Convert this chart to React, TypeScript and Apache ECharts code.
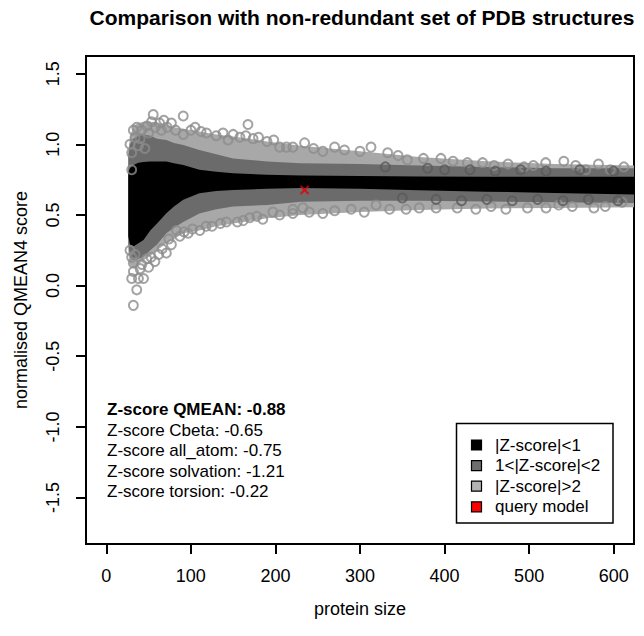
import React, { useEffect, useRef } from "react";
import * as echarts from "echarts";

// ---------- data ----------
const xTicks = [0, 100, 200, 300, 400, 500, 600];
const yTicks = [-1.5, -1.0, -0.5, 0.0, 0.5, 1.0, 1.5];

// envelope of the point clouds (protein size -> normalised QMEAN4 score)
const bandX = [26, 28, 32, 38, 44, 52, 60, 71, 80, 91, 110, 130, 150, 190, 230, 300, 370, 450, 530, 624];
const lightUpper = [0.95, 1.05, 1.13, 1.15, 1.16, 1.16, 1.15, 1.14, 1.12, 1.11, 1.09, 1.07, 1.055, 1.02, 0.99, 0.95, 0.91, 0.88, 0.86, 0.85];
const lightLower = [0.25, 0.15, 0.13, 0.15, 0.18, 0.21, 0.25, 0.30, 0.33, 0.37, 0.39, 0.42, 0.44, 0.477, 0.5, 0.52, 0.535, 0.545, 0.55, 0.555];
const darkUpper = [0.92, 1.0, 1.04, 1.06, 1.07, 1.06, 1.04, 1.03, 1.01, 0.995, 0.96, 0.93, 0.9, 0.878, 0.866, 0.86, 0.85, 0.84, 0.83, 0.83];
const darkLower = [0.3, 0.2, 0.18, 0.19, 0.205, 0.25, 0.29, 0.37, 0.41, 0.45, 0.51, 0.54, 0.56, 0.57, 0.594, 0.6, 0.6, 0.595, 0.59, 0.585];
const blackUpper = [0.8, 0.83, 0.854, 0.87, 0.875, 0.878, 0.878, 0.878, 0.866, 0.854, 0.82, 0.805, 0.795, 0.785, 0.78, 0.775, 0.772, 0.77, 0.77, 0.77];
const blackLower = [0.35, 0.29, 0.276, 0.3, 0.323, 0.39, 0.44, 0.512, 0.56, 0.607, 0.654, 0.67, 0.677, 0.685, 0.69, 0.685, 0.675, 0.665, 0.655, 0.645];

// individual structures outside the dense cloud (|Z-score|>2)
const outlierRings: [number, number][] = [
  [55.5, 1.21], [53.5, 1.16], [91, 1.2], [167.5, 1.14], [32, 1.1], [30, 0.94], [40, 1.04], [77, 1.15],
  [63, 1.15], [45.6, 0.97], [30, 0.82], [91, 1.07], [118.5, 1.08], [144, 1.03], [173.5, 1.04], [205, 0.98],
  [220.6, 0.98], [36, 1.12], [48, 1.13], [68, 1.17], [100, 1.1], [130, 1.06], [158, 1.05], [190, 1.02],
  [28, 1.0], [34, 1.05], [38, 0.99], [42, 1.1], [50, 1.08], [58, 1.12], [65, 1.1], [72, 1.12],
  [82, 1.1], [105, 1.12], [112, 1.09], [138, 1.08], [150, 1.07], [165, 1.06], [180, 1.05], [198, 1.03],
  [32, -0.14], [36, -0.03], [44, 0.05], [30, 0.05], [32, 0.1], [57.5, 0.17], [47.7, 0.19], [71, 0.23],
  [77, 0.29], [87, 0.35], [32, 0.16], [110.6, 0.39], [142, 0.45], [169.6, 0.48], [197, 0.52], [220.6, 0.51],
  [83, 0.39], [96.8, 0.37], [40, 0.12], [28, 0.25], [62, 0.22], [125, 0.42], [155, 0.45], [185, 0.47],
  [30, 0.2], [34, 0.22], [38, 0.05], [42, 0.15], [50, 0.13], [53, 0.2], [66, 0.26], [74, 0.33],
  [92, 0.38], [102, 0.4], [118, 0.42], [135, 0.44], [162, 0.46], [178, 0.49], [205, 0.5],
  [213, 0.98], [234.5, 1.01], [256, 0.95], [281.6, 0.96], [313, 0.98], [332.7, 0.94], [356, 0.89], [395.7, 0.9],
  [427, 0.87], [458.6, 0.85], [494, 0.84], [519.6, 0.87], [541, 0.88], [567, 0.82], [596, 0.82], [245, 0.97],
  [270, 0.98], [300, 0.95], [345, 0.92], [375, 0.9], [410, 0.88], [445, 0.87], [475, 0.86], [505, 0.85],
  [555, 0.85], [582, 0.86], [612, 0.84],
  [220.6, 0.54], [232.5, 0.55], [256, 0.51], [289.6, 0.54], [319, 0.57], [354.5, 0.54], [390, 0.55], [437, 0.54],
  [472.5, 0.54], [498, 0.55], [551, 0.56], [576.6, 0.55], [610, 0.59], [240, 0.52], [270, 0.53], [305, 0.52],
  [335, 0.54], [370, 0.55], [415, 0.55], [455, 0.56], [520, 0.55], [535, 0.57], [590, 0.56],
];

// 1<|Z-score|<2 structures scattered at the right-hand side
const darkSpeckles: [number, number][] = [
  [380, 0.83], [400, 0.82], [430, 0.82], [460, 0.81], [490, 0.82], [520, 0.81], [560, 0.82], [600, 0.81],
  [390, 0.61], [420, 0.6], [450, 0.61], [480, 0.6], [510, 0.61], [540, 0.6], [570, 0.61], [605, 0.6],
  [330, 0.84], [350, 0.62],
];

const queryModel: [number, number][] = [[234.5, 0.677]];

const zScoreLines = [
  "Z-score QMEAN: -0.88",
  "Z-score Cbeta: -0.65",
  "Z-score all_atom: -0.75",
  "Z-score solvation: -1.21",
  "Z-score torsion: -0.22",
];

const legendLabels = ["|Z-score|<1", "1<|Z-score|<2", "|Z-score|>2", "query model"];
const legendColors = ["#000000", "#6e6e6e", "#b4b4b4", "#ff0000"];

const FONT = "'Liberation Sans', Arial, Helvetica, sans-serif";

function bandSeries(name: string, upper: number[], lower: number[], color: string) {
  return {
    type: "custom",
    name,
    clip: true,
    silent: true,
    data: [[300, 0.7]],
    renderItem: (_params: any, api: any) => {
      const pts: number[][] = [];
      for (let i = 0; i < bandX.length; i++) pts.push(api.coord([bandX[i], upper[i]]));
      for (let i = bandX.length - 1; i >= 0; i--) pts.push(api.coord([bandX[i], lower[i]]));
      return { type: "polygon", shape: { points: pts }, style: { fill: color } };
    },
  };
}

export default function App() {
  const ref = useRef<HTMLDivElement>(null);

  useEffect(() => {
    if (!ref.current) return;
    const chart = echarts.init(ref.current, undefined, { renderer: "svg" });

    const graphics: any[] = [
      {
        type: "text",
        x: 362,
        y: 17,
        style: {
          text: "Comparison with non-redundant set of PDB structures",
          fontSize: 21,
          fontWeight: "bold",
          fontFamily: FONT,
          fill: "#000",
          align: "center",
          verticalAlign: "middle",
        },
      },
    ];
    zScoreLines.forEach((t, i) => {
      graphics.push({
        type: "text",
        x: 107,
        y: 409.5 + i * 20.6,
        z: 50,
        style: {
          text: t,
          fontSize: 17,
          fontWeight: i === 0 ? "bold" : "normal",
          fontFamily: FONT,
          fill: "#000",
          align: "left",
          verticalAlign: "middle",
        },
      });
    });
    graphics.push({
      type: "rect",
      z: 50,
      shape: { x: 456.5, y: 423.5, width: 156.5, height: 99.5 },
      style: { fill: "#fff", stroke: "#000", lineWidth: 1.5 },
    });
    legendLabels.forEach((t, i) => {
      const cy = 445 + i * 20.6;
      graphics.push({
        type: "rect",
        z: 51,
        shape: { x: 471.5, y: cy - 5, width: 10, height: 10 },
        style: { fill: legendColors[i], stroke: "#000", lineWidth: 1.2 },
      });
      graphics.push({
        type: "text",
        z: 51,
        x: 495,
        y: cy,
        style: {
          text: t,
          fontSize: 17,
          fontFamily: FONT,
          fill: "#000",
          align: "left",
          verticalAlign: "middle",
        },
      });
    });

    chart.setOption({
      animation: false,
      backgroundColor: "#fff",
      textStyle: { fontFamily: FONT },
      grid: {
        left: 86,
        right: 10,
        top: 56,
        bottom: 92,
        show: true,
        borderColor: "#000",
        borderWidth: 2,
        backgroundColor: "transparent",
      },
      xAxis: {
        type: "value",
        min: -24,
        max: 624,
        axisLine: { show: false, onZero: false },
        splitLine: { show: false },
        axisTick: {
          show: true,
          customValues: xTicks,
          length: 10,
          lineStyle: { color: "#000", width: 2 },
        },
        axisLabel: {
          customValues: xTicks,
          fontSize: 18,
          color: "#000",
          margin: 23,
          fontFamily: FONT,
        },
        name: "protein size",
        nameLocation: "middle",
        nameGap: 56,
        nameTextStyle: { fontSize: 18, color: "#000", fontFamily: FONT },
      },
      yAxis: {
        type: "value",
        min: -1.829,
        max: 1.625,
        axisLine: { show: false, onZero: false },
        splitLine: { show: false },
        axisTick: {
          show: true,
          customValues: yTicks,
          length: 10,
          lineStyle: { color: "#000", width: 2 },
        },
        axisLabel: {
          customValues: yTicks,
          rotate: 90,
          fontSize: 18,
          color: "#000",
          margin: 24,
          fontFamily: FONT,
          formatter: (v: number) => v.toFixed(1),
        },
        name: "normalised QMEAN4 score",
        nameLocation: "middle",
        nameRotate: 90,
        nameGap: 56,
        nameTextStyle: { fontSize: 18, color: "#000", fontFamily: FONT },
      },
      graphic: graphics,
      series: [
        bandSeries("|Z-score|>2 band", lightUpper, lightLower, "#a8a8a8"),
        {
          type: "scatter",
          name: "|Z-score|>2",
          data: outlierRings,
          symbol: "circle",
          symbolSize: 9,
          clip: true,
          silent: true,
          itemStyle: { color: "rgba(0,0,0,0)", borderColor: "#8c8c8c", borderWidth: 2 },
        },
        bandSeries("1<|Z-score|<2 band", darkUpper, darkLower, "#6b6b6b"),
        {
          type: "scatter",
          name: "1<|Z-score|<2",
          data: darkSpeckles,
          symbol: "circle",
          symbolSize: 9,
          clip: true,
          silent: true,
          itemStyle: { color: "rgba(0,0,0,0)", borderColor: "#5a5a5a", borderWidth: 2 },
        },
        bandSeries("|Z-score|<1 band", blackUpper, blackLower, "#000000"),
        {
          type: "scatter",
          name: "query model",
          data: queryModel,
          symbol: "path://M0,0L10,10M10,0L0,10",
          symbolSize: 8,
          clip: true,
          silent: true,
          z: 10,
          itemStyle: { color: "rgba(0,0,0,0)", borderColor: "#e00000", borderWidth: 2 },
        },
      ],
    });

    return () => chart.dispose();
  }, []);

  return <div ref={ref} style={{ width: 644, height: 636, position: "absolute", left: 0, top: 0 }} />;
}
